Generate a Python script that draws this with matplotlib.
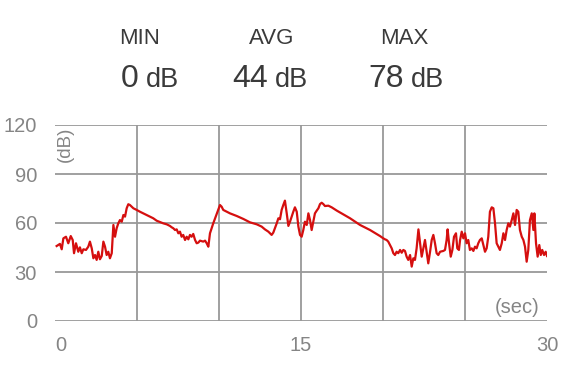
import matplotlib
matplotlib.use("Agg")
import matplotlib.pyplot as plt
import matplotlib.transforms as mtransforms

plt.rcParams['font.family'] = ['Liberation Sans', 'DejaVu Sans']

# ---- data ----
t = [0.10, 0.30, 0.41, 0.51, 0.67, 0.81, 0.96, 1.08, 1.16, 1.28, 1.42, 1.52, 1.63, 1.73, 1.89,
     2.03, 2.13, 2.24, 2.34, 2.44, 2.54, 2.64, 2.74, 2.85, 2.95, 3.05, 3.15, 3.25, 3.35, 3.46,
     3.56, 3.66, 3.76, 3.86, 3.96, 4.07, 4.17, 4.27, 4.37, 4.47, 4.57, 4.78, 4.98, 5.18, 5.59,
     5.99, 6.20, 6.60, 6.81, 7.01, 7.11, 7.21, 7.32, 7.42, 7.52, 7.62, 7.72, 7.82, 7.93, 8.03,
     8.13, 8.23, 8.33, 8.43, 8.54, 8.64, 8.74, 8.84, 9.04, 9.15, 9.25, 9.35, 9.45, 9.65, 9.86,
     9.96, 10.06, 10.16, 10.26, 10.67, 11.08, 11.48, 11.89, 12.30, 12.60, 12.80, 13.01, 13.21,
     13.31, 13.41, 13.52, 13.62, 13.72, 13.82, 13.92, 14.02, 14.13, 14.23, 14.33, 14.43, 14.53,
     14.63, 14.74, 14.84, 14.94, 15.04, 15.14, 15.24, 15.35, 15.45, 15.55, 15.65, 15.75, 15.85,
     15.96, 16.06, 16.16, 16.26, 16.36, 16.46, 16.67, 16.87, 17.18, 17.58, 17.99, 18.60, 19.21,
     19.82, 20.02, 20.12, 20.22, 20.32, 20.43, 20.53, 20.63, 20.73, 20.83, 20.93, 21.04, 21.14,
     21.24, 21.34, 21.44, 21.54, 21.65, 21.75, 21.85, 21.95, 22.05, 22.16, 22.26, 22.36, 22.46,
     22.56, 22.66, 22.76, 22.87, 22.97, 23.07, 23.17, 23.27, 23.37, 23.48, 23.68, 23.78, 23.88,
     23.94, 24.04, 24.13, 24.23, 24.33, 24.45, 24.53, 24.63, 24.70, 24.80, 24.90, 25.00, 25.10,
     25.20, 25.30, 25.41, 25.51, 25.61, 25.71, 25.81, 25.91, 26.02, 26.12, 26.22, 26.32, 26.42,
     26.52, 26.63, 26.73, 26.83, 26.93, 27.03, 27.13, 27.24, 27.34, 27.44, 27.54, 27.64, 27.74,
     27.85, 27.95, 28.05, 28.15, 28.25, 28.35, 28.46, 28.56, 28.66, 28.76, 28.86, 28.96, 29.07,
     29.17, 29.23, 29.33, 29.43, 29.53, 29.62, 29.71, 29.82, 29.92, 30.00]
db = [45.9, 47.2, 43.9, 50.6, 51.6, 47.6, 52.0, 49.6, 41.5, 47.6, 42.4, 45.1, 41.5, 43.9, 43.5,
      45.5, 48.6, 44.5, 38.4, 40.4, 37.4, 42.4, 37.8, 39.8, 48.6, 45.5, 40.4, 42.4, 38.4, 41.5,
      58.8, 51.6, 56.8, 59.8, 61.8, 60.8, 64.9, 63.9, 69.0, 71.5, 71.0, 69.0, 68.0, 66.9, 64.9,
      62.9, 61.4, 59.8, 59.2, 58.2, 57.4, 56.8, 55.7, 56.1, 53.7, 54.7, 51.6, 52.7, 49.6, 51.6,
      50.0, 52.7, 51.6, 53.3, 49.6, 47.6, 48.0, 49.2, 48.6, 49.2, 47.6, 45.5, 53.7, 59.8, 65.5,
      68.4, 71.0, 70.0, 68.0, 65.9, 64.3, 62.5, 60.4, 59.2, 57.8, 56.1, 54.7, 52.7,
      54.1, 56.8, 59.8, 62.9, 62.3, 68.0, 71.0, 73.7, 65.9, 58.2, 60.8, 63.9, 66.9,
      69.6, 66.9, 57.8, 52.7, 51.6, 55.7, 60.8, 58.8, 65.9, 61.8, 55.7, 60.8, 65.9,
      67.6, 69.0, 71.6, 72.4, 71.6, 70.4, 70.6, 69.6, 67.6, 65.3, 62.9, 58.8, 55.7,
      52.0, 50.6, 50.0, 49.6, 48.6, 46.5, 44.5, 41.5, 40.4, 42.4, 41.5, 43.5, 41.8,
      43.5, 42.9, 39.4, 37.4, 40.4, 33.3, 38.4, 37.4, 44.5, 56.1, 47.6, 39.4, 44.5,
      49.6, 42.4, 35.3, 42.4, 49.6, 52.7, 47.6, 41.5, 40.4, 42.4, 42.9, 43.5, 49.6,
      56.1, 46.5, 39.4, 43.5, 51.6, 53.7, 44.5, 43.5, 49.6, 54.7, 50.6, 53.7, 47.6,
      49.6, 43.5, 44.5, 42.9, 45.5, 44.5, 47.6, 49.6, 50.6, 46.5, 42.4, 44.5, 51.6,
      66.9, 69.6, 69.0, 59.8, 47.6, 45.5, 43.5, 47.6, 53.7, 49.6, 55.7, 59.8, 57.8,
      61.8, 65.9, 58.8, 68.0, 66.9, 55.7, 51.6, 49.6, 45.5, 36.3, 43.5, 61.8, 65.9,
      55.7, 65.9, 47.6, 39.4, 46.5, 40.4, 43.5, 40.4, 42.4, 39.8]

stat_labels = ["MIN", "AVG", "MAX"]
stat_values = ["0", "44", "78"]
stat_unit = "dB"
yticks = [0, 30, 60, 90, 120]
xticks = [0, 15, 30]
xgrid = [5, 10, 15, 20, 25]

W, H = 571, 369
fig = plt.figure(figsize=(W/100, H/100), dpi=100)
ax = fig.add_axes([55/W, 1-321/H, (547-55)/W, (321-125)/H])

grid_c = '#999999'
for y in yticks:
    ax.axhline(y, color=grid_c, lw=1.3, zorder=1)
for x in xgrid:
    ax.axvline(x, color=grid_c, lw=1.3, zorder=1)

ax.plot(t, db, color='#d50f0f', lw=1.6, zorder=3, solid_joinstyle='round')

ax.set_xlim(0, 30)
ax.set_ylim(0, 120)
ax.set_xticks(xticks)
ax.set_yticks(yticks)
ax.tick_params(length=0, colors='#858585', labelsize=14.5)
ax.tick_params(axis='y', pad=13)
ax.tick_params(axis='x', pad=11)
for s in ax.spines.values():
    s.set_visible(False)
# first x label sits a little to the right
lbl0 = ax.get_xticklabels()[0]
lbl0.set_transform(lbl0.get_transform() + mtransforms.ScaledTranslation(6/100, 0, fig.dpi_scale_trans))

ax.text(0.004, 0.99, "(dB)", rotation=90, transform=ax.transAxes, ha='left', va='top',
        color='#858585', fontsize=13.5)
ax.text(0.985, 0.071, "(sec)", transform=ax.transAxes, ha='right', va='center',
        color='#858585', fontsize=14.5)

label_cx = [140, 272, 404]
num_right = [138, 268, 404]
unit_left = [146, 275, 411]
for cx, nr, ul, lab, val in zip(label_cx, num_right, unit_left, stat_labels, stat_values):
    fig.text(cx/W, 1-39/H, lab, ha='center', va='center', fontsize=16, color='#3a3a3a')
    fig.text(nr/W, 1-87/H, val, ha='right', va='baseline', fontsize=23, color='#3a3a3a')
    fig.text(ul/W, 1-87/H, stat_unit, ha='left', va='baseline', fontsize=19.5, color='#3a3a3a')

fig.savefig("out.png", dpi=100, facecolor='white')
